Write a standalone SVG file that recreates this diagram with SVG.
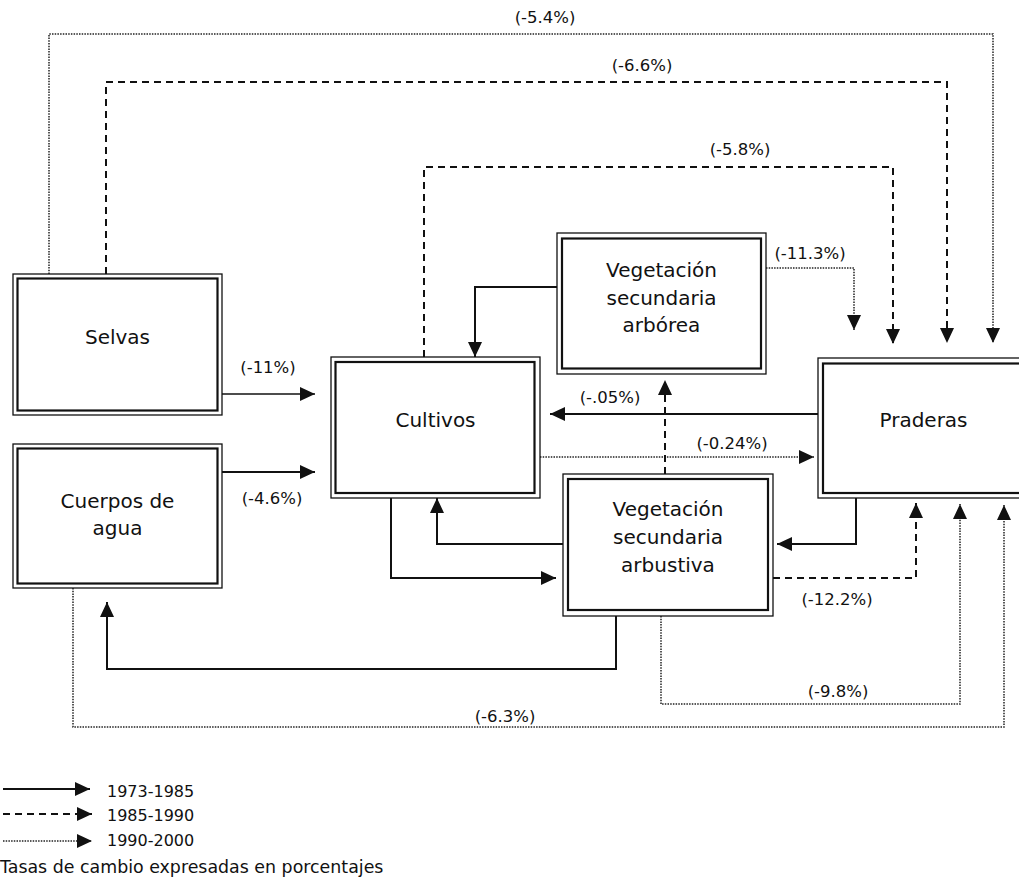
<svg xmlns="http://www.w3.org/2000/svg" width="1019" height="896" viewBox="0 0 1019 896">
<style>
.outer{fill:#fff;stroke:#111;stroke-width:1.3}
.inner{fill:none;stroke:#111;stroke-width:2.2}
.nt{font-family:"DejaVu Sans",Verdana,sans-serif;font-size:20px;fill:#111;text-anchor:middle}
.lb{font-family:"DejaVu Sans",Verdana,sans-serif;font-size:16.5px;fill:#111;text-anchor:middle}
.lg{font-family:"DejaVu Sans",Verdana,sans-serif;font-size:16px;fill:#111}
.solid{fill:none;stroke:#111;stroke-width:2}
.dash{fill:none;stroke:#111;stroke-width:2;stroke-dasharray:7 5}
.dot{fill:none;stroke:#222;stroke-width:1.5;stroke-dasharray:1.5 1.2}
</style>
<defs>
<marker id="ah" markerUnits="userSpaceOnUse" markerWidth="16" markerHeight="14" refX="15" refY="7" orient="auto">
<path d="M0,0 L15,7 L0,14 z" fill="#111"/>
</marker>
</defs>

<g id="connectors">
<path class="dot" d="M49,274 V34 H993 V343" marker-end="url(#ah)"/>
<path class="dash" d="M106,274 V82 H947 V343" marker-end="url(#ah)"/>
<path class="dash" d="M424,357 V167 H893 V344" marker-end="url(#ah)"/>
<path class="dot" d="M766,268 H854 V330" marker-end="url(#ah)"/>
<path class="solid" d="M557,287 H475 V357" marker-end="url(#ah)"/>
<path class="solid" d="M222,394 H315" marker-end="url(#ah)" style="stroke-width:1.6"/>
<path class="solid" d="M222,472 H315" marker-end="url(#ah)"/>
<path class="solid" d="M818,414 H550" marker-end="url(#ah)"/>
<path class="dot" d="M540,457 H814" marker-end="url(#ah)"/>
<path class="dash" d="M665,474 V380" marker-end="url(#ah)"/>
<path class="solid" d="M856,498 V544 H777" marker-end="url(#ah)"/>
<path class="solid" d="M563,544 H437 V498" marker-end="url(#ah)"/>
<path class="solid" d="M391,498 V578 H556" marker-end="url(#ah)"/>
<path class="dash" d="M773,578 H916 V503" marker-end="url(#ah)"/>
<path class="dot" d="M661,616 V704 H960 V504" marker-end="url(#ah)"/>
<path class="dot" d="M73,588 V727 H1004 V505" marker-end="url(#ah)"/>
<path class="solid" d="M616,616 V669 H107 V602" marker-end="url(#ah)"/>

<text class="lb" x="545" y="23">(-5.4%)</text>
<text class="lb" x="642" y="71">(-6.6%)</text>
<text class="lb" x="740" y="155">(-5.8%)</text>
<text class="lb" x="810" y="259">(-11.3%)</text>
<text class="lb" x="268" y="373">(-11%)</text>
<text class="lb" x="272" y="504">(-4.6%)</text>
<text class="lb" x="610" y="403">(-.05%)</text>
<text class="lb" x="732" y="449">(-0.24%)</text>
<text class="lb" x="837" y="605">(-12.2%)</text>
<text class="lb" x="838" y="697">(-9.8%)</text>
<text class="lb" x="505" y="722">(-6.3%)</text>
</g>

<g id="selvas">
<rect class="outer" x="13" y="274" width="209" height="141"/>
<rect class="inner" x="17.5" y="278.5" width="200" height="132"/>
<text class="nt" x="117.5" y="344">Selvas</text>
</g>
<g id="cuerpos">
<rect class="outer" x="13" y="444" width="209" height="144"/>
<rect class="inner" x="17.5" y="448.5" width="200" height="135"/>
<text class="nt" x="117.5" y="508">Cuerpos de</text>
<text class="nt" x="117.5" y="535">agua</text>
</g>
<g id="cultivos">
<rect class="outer" x="331" y="357" width="209" height="141"/>
<rect class="inner" x="335.5" y="362" width="199" height="131"/>
<text class="nt" x="435.5" y="427">Cultivos</text>
</g>
<g id="arborea">
<rect class="outer" x="557" y="233" width="209" height="141"/>
<rect class="inner" x="562" y="238.5" width="199" height="130"/>
<text class="nt" x="661.5" y="277">Vegetación</text>
<text class="nt" x="661.5" y="305">secundaria</text>
<text class="nt" x="661.5" y="332">arbórea</text>
</g>
<g id="arbustiva">
<rect class="outer" x="563" y="474" width="210" height="142"/>
<rect class="inner" x="568" y="479" width="200" height="131"/>
<text class="nt" x="668" y="516">Vegetación</text>
<text class="nt" x="668" y="544">secundaria</text>
<text class="nt" x="668" y="572">arbustiva</text>
</g>
<g id="praderas">
<rect class="outer" x="818" y="358" width="220" height="140"/>
<rect class="inner" x="823" y="363.5" width="210" height="129.5"/>
<text class="nt" x="923.5" y="427">Praderas</text>
</g>

<g id="legend">
<path class="solid" d="M3,789 H90" marker-end="url(#ah)"/>
<path class="dash" d="M3,814 H92" marker-end="url(#ah)"/>
<path class="dot" d="M3,841 H92" marker-end="url(#ah)"/>
<text class="lg" x="107" y="797">1973-1985</text>
<text class="lg" x="107" y="821">1985-1990</text>
<text class="lg" x="107" y="846">1990-2000</text>
<text class="lg" x="0" y="873" style="font-size:17.4px">Tasas de cambio expresadas en porcentajes</text>
</g>
</svg>
